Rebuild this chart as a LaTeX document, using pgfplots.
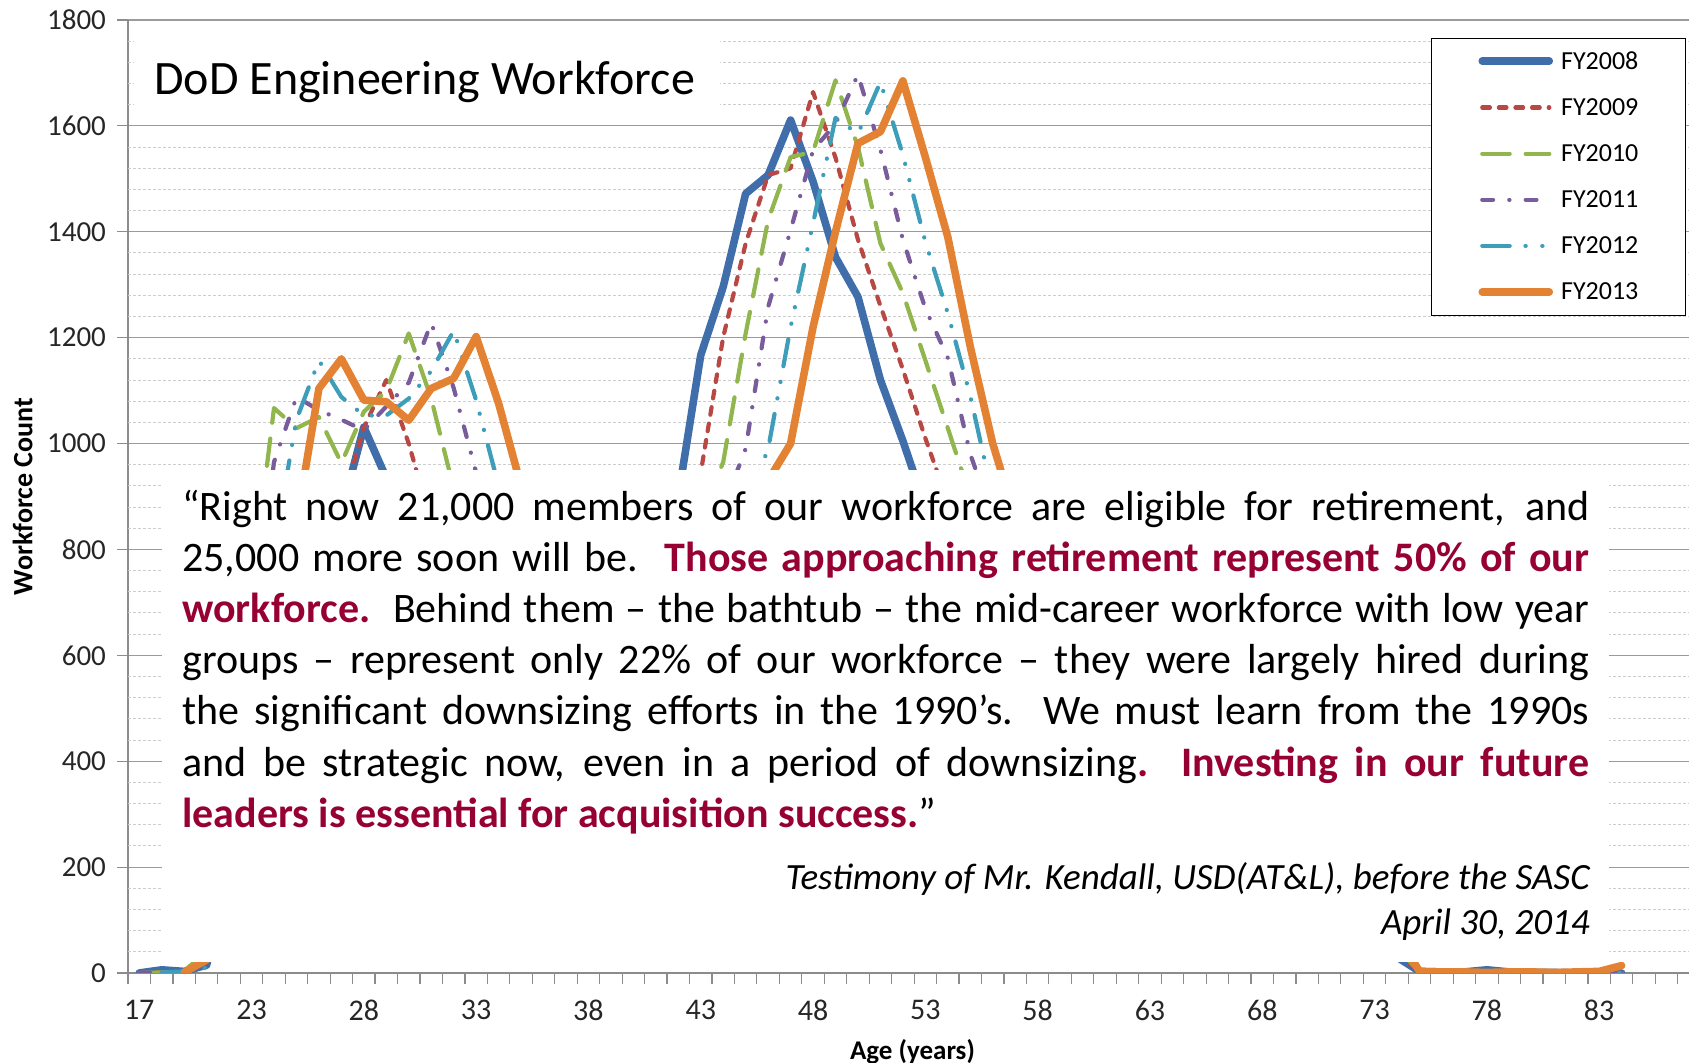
\documentclass[border=0pt]{standalone}
\usepackage{pgfplots}
\pgfplotsset{compat=1.18}
\usepackage{pgfplotstable}
\usepackage{fontspec}
\setmainfont{Carlito}
\definecolor{c08}{RGB}{64,110,170}
\definecolor{c09}{RGB}{185,72,68}
\definecolor{c10}{RGB}{145,182,78}
\definecolor{c11}{RGB}{120,92,155}
\definecolor{c12}{RGB}{62,158,186}
\definecolor{c13}{RGB}{228,130,52}
\definecolor{qr}{RGB}{150,0,50}
\definecolor{axisgray}{RGB}{140,140,140}
\definecolor{majgrid}{RGB}{155,155,155}
\definecolor{mingrid}{RGB}{205,205,205}
\pgfplotstableread{
x y08 y09 y10 y11 y12 y13
0 0 0 0 0 nan nan
1 6 2 1 1 1 nan
2 3 4 4 3 3 1
3 15 20 40 25 10 25
4 200 260 380 300 200 100
5 450 550 720 620 480 350
6 650 780 1067 965 800 600
7 780 880 1029 1088 1045 850
8 840 900 1050 1063 1157 1104
9 870 880 963 1045 1088 1160
10 1031 1030 1060 1025 1053 1082
11 935 1120 1100 1070 1053 1079
12 850 1000 1208 1115 1085 1044
13 760 850 1085 1228 1137 1104
14 700 780 915 1105 1213 1123
15 650 720 820 945 1082 1202
16 600 660 750 850 920 1076
17 560 610 690 770 830 920
18 540 570 640 700 760 810
19 560 550 600 650 700 740
20 600 570 570 610 650 690
21 680 610 590 580 620 650
22 780 690 630 600 590 620
23 850 790 710 640 610 600
24 900 860 790 720 650 620
25 1167 945 860 800 730 660
26 1296 1201 965 880 800 730
27 1472 1378 1208 990 880 850
28 1507 1507 1422 1258 990 930
29 1611 1520 1541 1403 1220 1000
30 1495 1664 1551 1554 1416 1220
31 1352 1540 1686 1604 1615 1400
32 1277 1385 1560 1697 1585 1567
33 1120 1260 1378 1555 1683 1589
34 1005 1140 1284 1385 1545 1685
35 880 1010 1157 1255 1381 1541
36 760 890 1029 1162 1246 1390
37 650 770 900 980 1090 1183
38 560 660 780 860 900 1000
39 480 570 670 740 780 860
40 420 490 580 640 670 740
41 360 430 500 550 580 640
42 310 370 440 480 500 560
43 260 320 380 420 440 490
44 220 270 330 360 380 430
45 185 230 280 310 330 375
46 155 195 240 265 285 325
47 130 165 205 225 245 280
48 110 140 175 192 210 242
49 92 118 150 165 180 208
50 78 100 128 140 154 180
51 66 85 108 120 132 155
52 56 72 92 102 113 134
53 48 62 78 87 97 116
54 42 53 66 74 83 100
55 36 45 56 63 71 86
56 30 38 48 54 61 74
57 3 3 2 3 2 3
58 2 2 1 2 2 2
59 2 1 1 1 1 2
60 6 2 1 1 1 1
61 2 1 0 1 1 2
62 1 1 0 0 1 2
63 1 0 0 0 0 1
64 0 0 0 0 0 2
65 0 0 0 0 0 3
66 0 0 0 0 0 14
}\data
\begin{document}
\begin{tikzpicture}
\begin{axis}[
  at={(0pt,0pt)}, anchor=south west,
  scale only axis, width=780.5pt, height=476.5pt,
  xmin=-0.5, xmax=69, ymin=0, ymax=1800,
  axis x line*=bottom, axis y line*=left,
  axis line style={draw=axisgray, line width=0.7pt, -},
  xtick={0,5,...,65},
  xticklabels={17,23,28,33,38,43,48,53,58,63,68,73,78,83},
  major x tick style={draw=none},
  minor xtick={-0.5,0.5,...,68.5},
  minor x tick style={draw=axisgray, line width=0.6pt},
  minor tick length=5.5pt,
  major tick length=5.5pt,
  tick align=outside,
  ytick={0,200,...,1800},
  major y tick style={draw=axisgray, line width=0.6pt},
  ymajorgrids,
  major grid style={draw=majgrid, line width=0.6pt},
  extra y ticks={40,80,120,160,240,280,320,360,440,480,520,560,640,680,720,760,840,880,920,960,1040,1080,1120,1160,1240,1280,1320,1360,1440,1480,1520,1560,1640,1680,1720,1760},
  extra y tick labels={},
  extra y tick style={grid=major, major grid style={draw=mingrid, line width=0.5pt, dash pattern=on 1.5pt off 1pt}, major tick length=0pt},
  /pgf/number format/assume math mode=true,
  /pgf/number format/1000 sep={},
  xticklabel style={font=\fontsize{15}{15}\selectfont, text=black!85, yshift=-4.7pt},
  yticklabel style={font=\fontsize{14.5}{14.5}\selectfont, text=black!85, xshift=-2pt},
  xlabel={Age (years)},
  ylabel={Workforce Count},
  xlabel style={font=\fontsize{13.5}{13.5}\selectfont\bfseries, at={(axis description cs:0.5,0)}, anchor=base, yshift=-43pt, xshift=2pt},
  ylabel style={font=\fontsize{14}{14}\selectfont\bfseries, at={(axis description cs:-0.0675,0.5)}, anchor=center},
  legend style={at={(axis description cs:0.8347,0.9811)}, anchor=north west, draw=black, line width=0.5pt, fill=white,
    font=\fontsize{13}{13}\selectfont, row sep=13.1pt, column sep=4pt, inner xsep=23.5pt, inner ysep=6.5pt,
    nodes={inner sep=0pt}},
  legend cell align=left,
  legend image code/.code={\draw[#1] (1.5pt,0.4pt) -- (35pt,0.4pt);},
]
\addplot[c08, line width=3.8pt, line join=round, line cap=round] table[x=x,y=y08]{\data};
\addplot[c09, line width=2.1pt, line join=round, line cap=round, dash pattern=on 3.8pt off 4.5pt] table[x=x,y=y09]{\data};
\addplot[c10, line width=2.1pt, line join=round, line cap=round, dash pattern=on 13.7pt off 8pt] table[x=x,y=y10]{\data};
\addplot[c11, line width=2.1pt, line join=round, line cap=round, dash pattern=on 5.4pt off 8.1pt on 0.1pt off 8.1pt] table[x=x,y=y11]{\data};
\addplot[c12, line width=2.1pt, line join=round, line cap=round, dash pattern=on 13.7pt off 7.9pt on 0.1pt off 8.3pt on 0.1pt off 7.9pt] table[x=x,y=y12]{\data};
\addplot[c13, line width=3.8pt, line join=round, line cap=round] table[x=x,y=y13]{\data};
\legend{FY2008,FY2009,FY2010,FY2011,FY2012,FY2013}
\end{axis}
\fill[white] (3pt,430pt) rectangle (296pt,474.5pt);
\node[anchor=base west, inner sep=0pt, font=\fontsize{24}{28}\selectfont] at (13pt,439.1pt) {DoD Engineering Workforce};
\fill[white] (17pt,5.5pt) rectangle (740.5pt,251.5pt);
\node[anchor=base west, inner sep=0pt] at (27pt,226.4pt) {\parbox[t]{703.5pt}{\fontsize{21}{25.6}\selectfont
\hbox to\hsize{“Right now 21,000 members of our workforce are eligible for retirement, and}
\hbox to\hsize{25,000 more soon will be.\ \ {\color{qr}\bfseries Those approaching retirement represent 50\% of our}}
\hbox to\hsize{{\color{qr}\bfseries workforce.}\ \ Behind them – the bathtub – the mid-career workforce with low year}
\hbox to\hsize{groups – represent only 22\% of our workforce – they were largely hired during}
\hbox to\hsize{the significant downsizing efforts in the 1990’s.\ \ We must learn from the 1990s}
\hbox to\hsize{and be strategic now, even in a period of downsizing{\color{qr}\bfseries .\ \ Investing in our future}}
\hbox{{\color{qr}\bfseries leaders is essential for acquisition success.}”}}};
\node[anchor=base east, inner sep=0pt, font=\fontsize{18.5}{22}\selectfont\itshape] at (731pt,41.6pt) {Testimony of Mr. Kendall, USD(AT\&L), before the SASC};
\node[anchor=base east, inner sep=0pt, font=\fontsize{18.5}{22}\selectfont\itshape] at (731pt,19pt) {April 30, 2014};
\pgfresetboundingbox
\useasboundingbox (-64pt,-45pt) rectangle (780.5pt,486.5pt);
\end{tikzpicture}
\end{document}
